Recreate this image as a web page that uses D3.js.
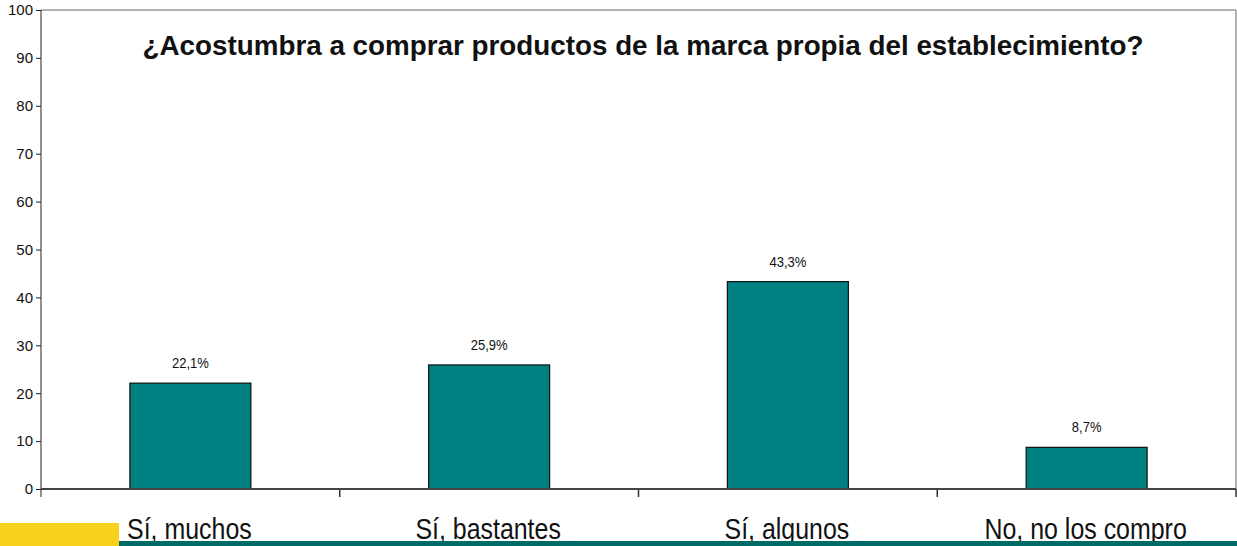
<!DOCTYPE html>
<html>
<head>
<meta charset="utf-8">
<script src="https://cdn.jsdelivr.net/npm/d3@7"></script>
<style>
body { margin:0; background:#fff; }
text { font-family: "Liberation Sans", Arial, sans-serif; }
</style>
</head>
<body>
<script>
var categories = ["Sí, muchos", "Sí, bastantes", "Sí, algunos", "No, no los compro"];
var values = [22.1, 25.9, 43.3, 8.7];
var valueLabels = ["22,1%", "25,9%", "43,3%", "8,7%"];
var yTicks = [0, 10, 20, 30, 40, 50, 60, 70, 80, 90, 100];
var title = "¿Acostumbra a comprar productos de la marca propia del establecimiento?";

var svgWidth = 1237, svgHeight = 546;
var margin = {top:10, right:1, bottom:57, left:41};
var width = svgWidth - margin.left - margin.right;
var height = svgHeight - margin.top - margin.bottom;

var svg = d3.select("body").append("svg").attr("width", svgWidth).attr("height", svgHeight);
var chart = svg.append("g").attr("transform", `translate(${margin.left}, ${margin.top})`);

var x = d3.scaleBand().domain(categories).range([0, width]).paddingInner(0.595).paddingOuter(0.2975);
var y = d3.scaleLinear().domain([0, 100]).range([height, 0]);

// plot area border (top and right)
chart.append("line").attr("x1", 0).attr("x2", width).attr("y1", 0).attr("y2", 0).attr("stroke", "#999").attr("stroke-width", 1.5);
chart.append("line").attr("x1", width).attr("x2", width).attr("y1", 0).attr("y2", height).attr("stroke", "#999").attr("stroke-width", 1.5);

var yAxis = chart.append("g").call(d3.axisLeft(y).tickValues(yTicks).tickSize(5).tickPadding(3));
yAxis.select(".domain").attr("stroke", "#222").attr("d", `M0,0V${height + 8}`);
yAxis.selectAll("line").attr("stroke", "#222");
yAxis.selectAll("text").attr("font-size", "15px").attr("fill", "#111").style("font-family", "Liberation Sans, Arial, sans-serif");

var step = x.step();
var boundaries = d3.range(1, categories.length + 1).map(i => i * step);
chart.selectAll(".xtick").data(boundaries).enter().append("line")
  .attr("x1", d => d).attr("x2", d => d).attr("y1", height).attr("y2", height + 8)
  .attr("stroke", "#333").attr("stroke-width", 1.5);

chart.selectAll(".bar").data(values).enter().append("rect")
  .attr("x", (d, i) => x(categories[i])).attr("y", d => y(d))
  .attr("width", x.bandwidth()).attr("height", d => height - y(d))
  .attr("fill", "#008080").attr("stroke", "#111").attr("stroke-width", 1.2);

chart.append("line").attr("x1", 0).attr("x2", width).attr("y1", height).attr("y2", height)
  .attr("stroke", "#444").attr("stroke-width", 2);

chart.selectAll(".vlabel").data(values).enter().append("text")
  .attr("transform", (d, i) => `translate(${x(categories[i]) + x.bandwidth() / 2}, ${y(d) - 15}) scale(0.93, 1)`)
  .attr("text-anchor", "middle").attr("font-size", "14px").attr("fill", "#111")
  .text((d, i) => valueLabels[i]);

svg.append("text").attr("x", 643).attr("y", 55).attr("text-anchor", "middle")
  .attr("font-size", "27.8px").attr("font-weight", "bold").attr("fill", "#111").text(title);

// footer decorations
svg.append("rect").attr("x", 0).attr("y", 523).attr("width", 119).attr("height", 23).attr("fill", "#f7d11b");
svg.append("rect").attr("x", 119).attr("y", 541).attr("width", svgWidth - 119).attr("height", 5).attr("fill", "#006a64");

chart.selectAll(".xlabel").data(categories).enter().append("text")
  .attr("transform", d => `translate(${x(d) + x.bandwidth() / 2 - 1}, ${539 - margin.top}) scale(0.86, 1)`)
  .attr("text-anchor", "middle").attr("font-size", "29px").attr("fill", "#111")
  .text(d => d);
</script>
</body>
</html>
